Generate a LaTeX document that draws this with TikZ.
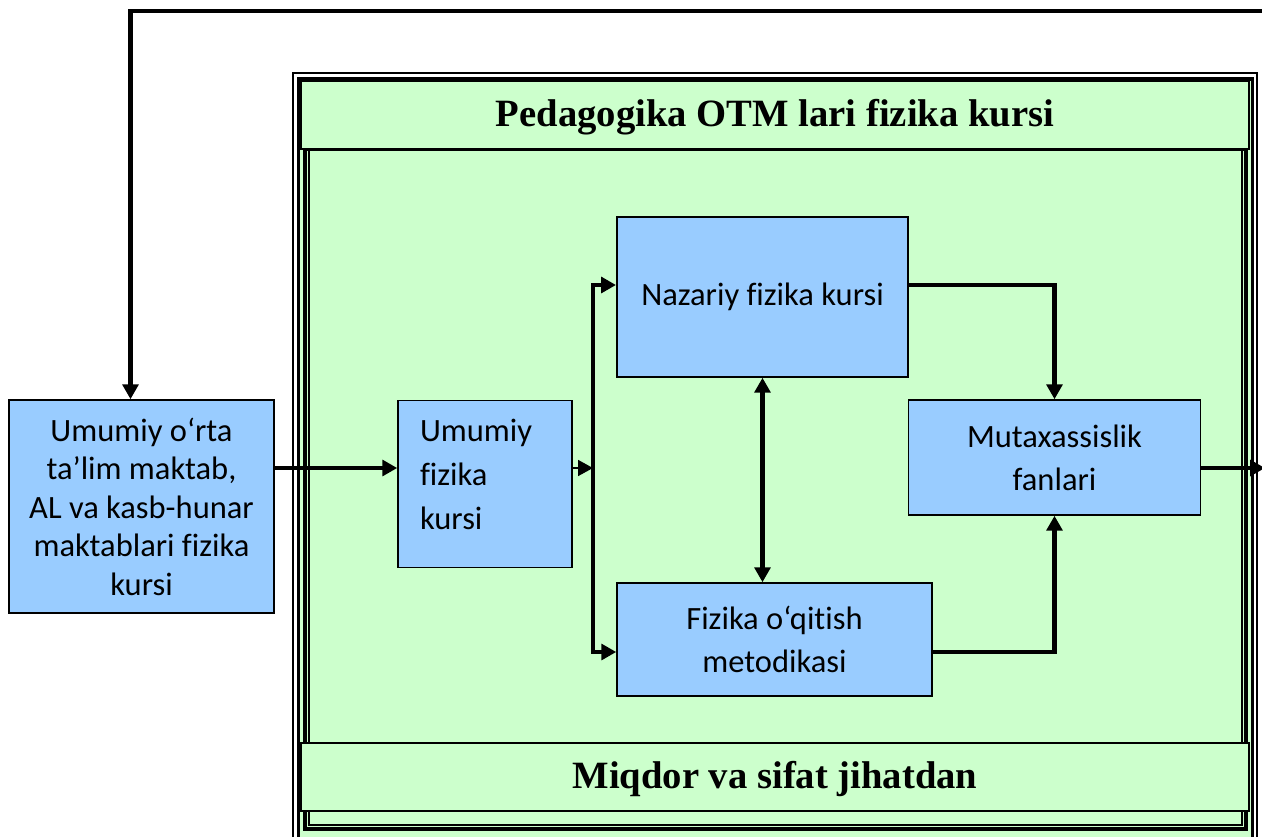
\documentclass[tikz,border=0pt]{standalone}
\usepackage{fontspec}
\setmainfont{Liberation Serif}
\newfontfamily\boxfont[Ligatures=NoCommon]{Carlito}
\usetikzlibrary{arrows.meta}
\definecolor{palegreen}{HTML}{CCFFCC}
\definecolor{paleblue}{HTML}{99CCFF}
\tikzset{
  block/.style={draw, line width=0.9pt, fill=paleblue, align=center, inner sep=0pt,
    font=\boxfont\fontsize{18.5}{24.6}\selectfont},
  band/.style={draw, line width=0.9pt, fill=palegreen, minimum width=18.96cm,
    minimum height=1.36cm, text depth=2pt, font=\bfseries\fontsize{22}{26}\selectfont},
  conn/.style={line width=2.6pt, -{Triangle[length=8.5pt,width=9pt]}},
}

\begin{document}
\begin{tikzpicture}[x=0.02cm,y=-0.02cm]
  \useasboundingbox (0,0) rectangle (1262,836);
  \clip (0,0) rectangle (1262,836);

  % frame
  \fill[palegreen] (298.5,79) rectangle (1252.5,900);
  \draw[line width=0.6pt] (293,73) rectangle (1257,900);
  \draw[line width=2pt] (298.5,79) rectangle (1252.5,900);
  \draw[line width=1.8pt] (305,149) rectangle (1246,829);
  \draw[line width=0.8pt] (309,149) rectangle (1242,825);
  \node[band] (head) at (775,115) {Pedagogika OTM lari fizika kursi};
  \node[band] (foot) at (775,777) {Miqdor va sifat jihatdan};

  % blocks
  \node[block, minimum width=5.3cm, minimum height=4.26cm,
    font=\boxfont\fontsize{18.5}{21.9}\selectfont] (school) at (141.5,506.5)
    {Umumiy o‘rta\\ta’lim maktab,\\AL va kasb-hunar\\maktablari fizika\\kursi};
  \node[block, minimum width=3.48cm, minimum height=3.34cm, align=left,
    text width=2.6cm, font=\boxfont\fontsize{18.5}{25}\selectfont] (general) at (485,484)
    {Umumiy\\fizika\\kursi\rule[-11pt]{0pt}{11pt}};
  \node[block, minimum width=5.83cm, minimum height=3.2cm] (theory) at (762.5,297)
    {Nazariy fizika kursi};
  \node[block, minimum width=6.3cm, minimum height=2.26cm] (method) at (774.5,639.5)
    {Fizika o‘qitish\\metodikasi};
  \node[block, minimum width=5.84cm, minimum height=2.3cm] (special) at (1054.5,457.5)
    {Mutaxassislik\\fanlari};

  % connectors
  \coordinate (back) at (1262,11);
  \coordinate (corner) at (130.5,11);
  \coordinate (mid) at (0,468);
  \coordinate (fork) at (593,468);
  \coordinate (ftop) at (593,285);
  \coordinate (fbot) at (593,652);
  \coordinate (exit) at (1265,468);

  \draw[conn] (back) -- (corner) -- (corner |- school.north);
  \draw[conn] (school.east |- mid) -- (general.west |- mid);
  \draw[line width=1.2pt, -{Triangle[length=8.5pt,width=9pt]}] (general.east |- mid) -- (fork);
  \draw[conn, {Triangle[length=8.5pt,width=9pt]}-{Triangle[length=8.5pt,width=9pt]}]
    (theory.west |- ftop) -- (ftop) -- (fbot) -- (method.west |- fbot);
  \draw[conn, {Triangle[length=8.5pt,width=9pt]}-{Triangle[length=8.5pt,width=9pt]}]
    (theory.south) -- (theory.south |- method.north);
  \draw[conn] (theory.east |- ftop) -| (special.north);
  \draw[conn] (method.east |- fbot) -| (special.south);
  \draw[conn] (special.east |- mid) -- (exit);
\end{tikzpicture}
\end{document}
